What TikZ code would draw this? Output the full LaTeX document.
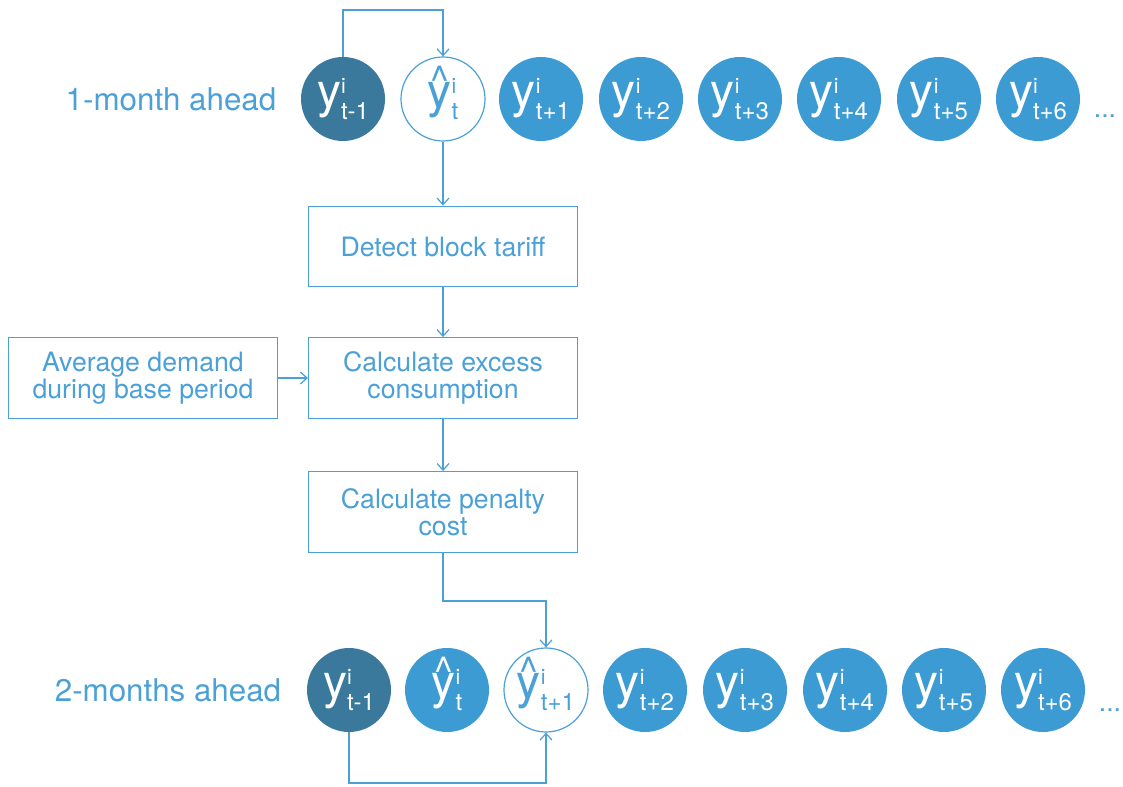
\documentclass[tikz,border=0pt]{standalone}
\usepackage{fontspec}
\setmainfont{TeX Gyre Heros}
\usetikzlibrary{arrows.meta}
\definecolor{dk}{RGB}{58,121,156}
\definecolor{lt}{RGB}{61,155,211}
\definecolor{ln}{RGB}{74,160,215}
\newcommand\cy[2]{{\fontsize{36}{38}\selectfont #1}\rlap{\raisebox{11pt}{\fontsize{16}{18}\selectfont i}}\raisebox{-9pt}{\fontsize{18}{20}\selectfont #2}}
\newcommand\yhat{\ooalign{y\cr\hfil\raisebox{10pt}{\fontsize{30}{32}\selectfont\^{}}\hfil\cr}}
\tikzset{
  circ/.style={circle,minimum size=63pt,inner sep=0pt},
  dkc/.style={circ,fill=dk,text=white},
  ltc/.style={circ,fill=lt,text=white},
  hatc/.style={circ,draw=ln,line width=0.9pt,fill=white,text=ln},
  stepbox/.style={draw=ln,line width=0.9pt,minimum width=201.75pt,minimum height=60.5pt,align=center,text=ln,font=\fontsize{20}{20.5}\selectfont,inner sep=2pt},
  arr/.style={draw=ln,line width=0.9pt,-{Straight Barb[length=5pt,width=9pt]}},
  lbl/.style={text=ln,font=\fontsize{23.5}{26}\selectfont},
  dots/.style={text=ln,font=\fontsize{20}{22}\selectfont}
}
\begin{document}
\begin{tikzpicture}[x=0.75pt,y=-0.75pt]
\useasboundingbox (0,0) rectangle (1123,787);
% top row
\node[lbl] (l1) at (171,99) {1-month ahead};
\node[dkc] (a1) at (343,99) {\cy{y}{t-1}};
\node[hatc] (a2) at (443,99) {\cy{\yhat}{t}};
\node[ltc] (a3) at (541,99) {\cy{y}{t+1}};
\node[ltc] (a4) at (641,99) {\cy{y}{t+2}};
\node[ltc] (a5) at (740,99) {\cy{y}{t+3}};
\node[ltc] (a6) at (839,99) {\cy{y}{t+4}};
\node[ltc] (a7) at (939,99) {\cy{y}{t+5}};
\node[ltc] (a8) at (1038,99) {\cy{y}{t+6}};
\node[dots] (d1) at (1105,116) {...};
% boxes
\node[stepbox] (b1) at (443,246.5) {Detect block tariff};
\node[stepbox] (b2) at (443,378) {Calculate excess\\consumption};
\node[stepbox] (b0) at (143,378) {Average demand\\during base period};
\node[stepbox] (b3) at (443,512) {Calculate penalty\\cost};
% bottom row
\node[lbl] (l2) at (168,690) {2-months ahead};
\node[dkc] (c1) at (349,690) {\cy{y}{t-1}};
\node[ltc] (c2) at (447,690) {\cy{\yhat}{t}};
\node[hatc] (c3) at (546,690) {\cy{\yhat}{t+1}};
\node[ltc] (c4) at (645,690) {\cy{y}{t+2}};
\node[ltc] (c5) at (745,690) {\cy{y}{t+3}};
\node[ltc] (c6) at (845,690) {\cy{y}{t+4}};
\node[ltc] (c7) at (944,690) {\cy{y}{t+5}};
\node[ltc] (c8) at (1043,690) {\cy{y}{t+6}};
\node[dots] (d2) at (1110,710) {...};
% connectors
\coordinate (k1) at (443,10);
\coordinate (k2) at (546,601);
\coordinate (k3) at (546,783);
\draw[arr] (a1.north) |- (k1) -- (a2.north);
\draw[arr] (a2.south) -- (b1.north);
\draw[arr] (b1.south) -- (b2.north);
\draw[arr] (b0.east) -- (b2.west);
\draw[arr] (b2.south) -- (b3.north);
\draw[arr] (b3.south) |- (k2) -- (c3.north);
\draw[arr] (c1.south) |- (k3) -- (c3.south);
\end{tikzpicture}
\end{document}
